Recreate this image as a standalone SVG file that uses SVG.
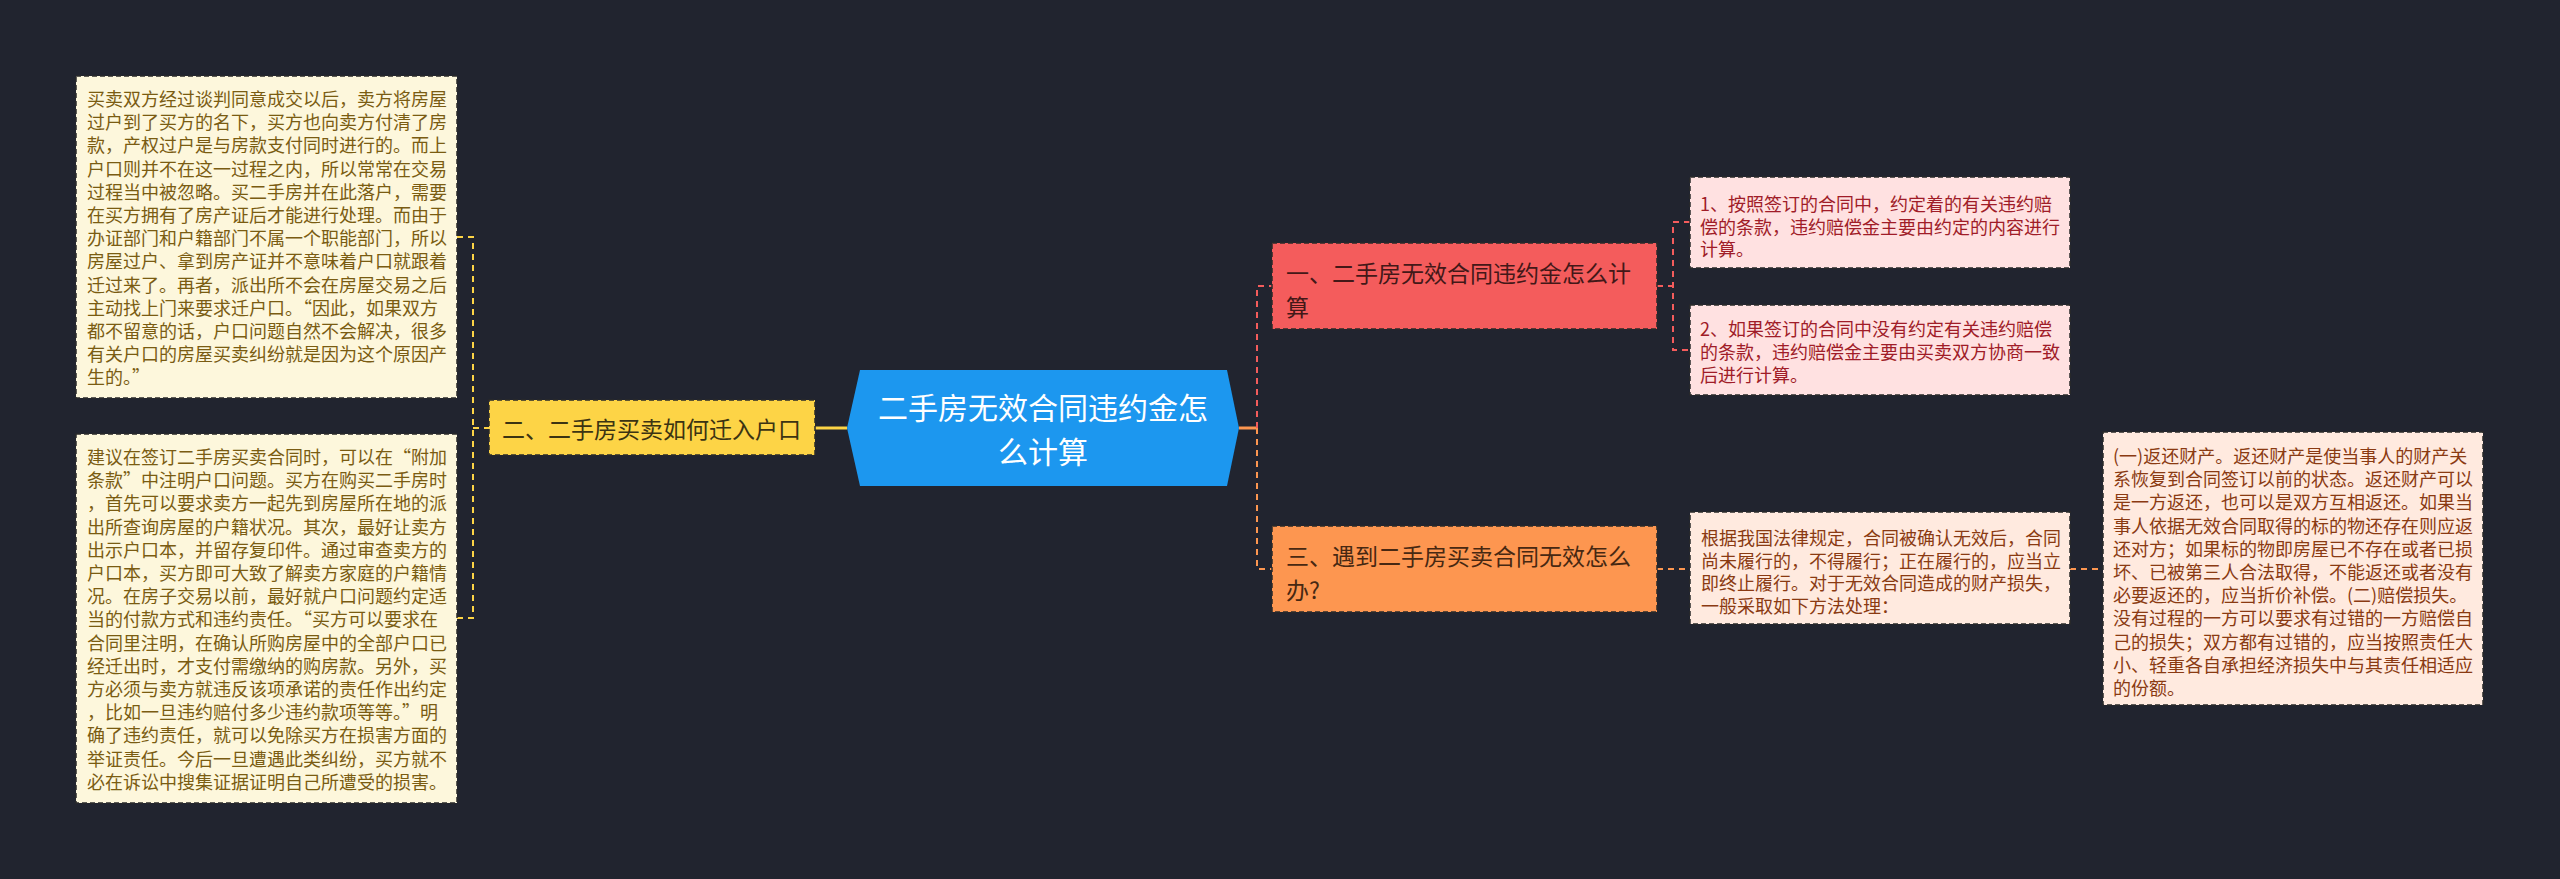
<svg xmlns="http://www.w3.org/2000/svg" width="2560" height="879" viewBox="0 0 2560 879">
<style>
.t{font-family:"Noto Sans CJK SC","Noto Sans",sans-serif;dominant-baseline:central}
.box{stroke:#2a2a2a;stroke-width:1.5;stroke-dasharray:5 3}
.c{fill:none;stroke-width:2;stroke-dasharray:6 5}
.cs{fill:none;stroke-width:3}
.s18{font-size:18px}
.s23{font-size:23px}
.leaf-l{fill:#fdf7dc}
.leaf-lt{fill:#7a5c12}
.leaf-r{fill:#ffe1e1}
.leaf-rt{fill:#a01c28}
.leaf-o{fill:#ffeadf}
.leaf-ot{fill:#8a3a12}
</style>
<rect x="0" y="0" width="2560" height="879" fill="#21242f"/>
<g id="connectors">
  <path class="cs" stroke="#fdd446" d="M815 428 H847"/>
  <path class="c" stroke="#fdd446" d="M490 428 H473"/>
  <path class="c" stroke="#fdd446" d="M457 237 H473 V618 H457"/>
  <path class="cs" stroke="#fd9650" d="M1239 428 H1257"/>
  <path class="c" stroke="#f45c5c" d="M1257 428 V286 H1272"/>
  <path class="c" stroke="#fd9650" d="M1257 428 V569 H1272"/>
  <path class="c" stroke="#f45c5c" d="M1657 286 H1673"/>
  <path class="c" stroke="#f45c5c" d="M1690 222 H1673 V350 H1690"/>
  <path class="c" stroke="#fd9650" d="M1657 569 H1690"/>
  <path class="c" stroke="#fd9650" d="M2070 569 H2103"/>
</g>
<g id="root">
  <polygon points="847,428 860,370 1227,370 1239,428 1227,486 860,486" fill="#1c97ef"/>
  <text class="t" font-size="30" fill="#ffffff" text-anchor="middle"><tspan x="1043" y="406">二手房无效合同违约金怎</tspan><tspan x="1043" y="450">么计算</tspan></text>
</g>
<g id="node-yellow">
  <rect class="box" x="489" y="400" width="326" height="55" fill="#fdd446"/>
  <text class="t s23" fill="#3b3312" x="502" y="428">二、二手房买卖如何迁入户口</text>
</g>
<g id="leaf-left-1">
  <rect class="box leaf-l" x="76" y="76" width="381" height="322"/>
  <text class="t s18 leaf-lt"><tspan x="87" y="98">买卖双方经过谈判同意成交以后，卖方将房屋</tspan><tspan x="87" y="121.2">过户到了买方的名下，买方也向卖方付清了房</tspan><tspan x="87" y="144.4">款，产权过户是与房款支付同时进行的。而上</tspan><tspan x="87" y="167.6">户口则并不在这一过程之内，所以常常在交易</tspan><tspan x="87" y="190.8">过程当中被忽略。买二手房并在此落户，需要</tspan><tspan x="87" y="214">在买方拥有了房产证后才能进行处理。而由于</tspan><tspan x="87" y="237.2">办证部门和户籍部门不属一个职能部门，所以</tspan><tspan x="87" y="260.4">房屋过户、拿到房产证并不意味着户口就跟着</tspan><tspan x="87" y="283.6">迁过来了。再者，派出所不会在房屋交易之后</tspan><tspan x="87" y="306.8">主动找上门来要求迁户口。“因此，如果双方</tspan><tspan x="87" y="330">都不留意的话，户口问题自然不会解决，很多</tspan><tspan x="87" y="353.2">有关户口的房屋买卖纠纷就是因为这个原因产</tspan><tspan x="87" y="376.4">生的。”</tspan></text>
</g>
<g id="leaf-left-2">
  <rect class="box leaf-l" x="76" y="434" width="381" height="369"/>
  <text class="t s18 leaf-lt"><tspan x="87" y="456">建议在签订二手房买卖合同时，可以在“附加</tspan><tspan x="87" y="479.2">条款”中注明户口问题。买方在购买二手房时</tspan><tspan x="87" y="502.4">，首先可以要求卖方一起先到房屋所在地的派</tspan><tspan x="87" y="525.6">出所查询房屋的户籍状况。其次，最好让卖方</tspan><tspan x="87" y="548.8">出示户口本，并留存复印件。通过审查卖方的</tspan><tspan x="87" y="572">户口本，买方即可大致了解卖方家庭的户籍情</tspan><tspan x="87" y="595.2">况。在房子交易以前，最好就户口问题约定适</tspan><tspan x="87" y="618.4">当的付款方式和违约责任。“买方可以要求在</tspan><tspan x="87" y="641.6">合同里注明，在确认所购房屋中的全部户口已</tspan><tspan x="87" y="664.8">经迁出时，才支付需缴纳的购房款。另外，买</tspan><tspan x="87" y="688">方必须与卖方就违反该项承诺的责任作出约定</tspan><tspan x="87" y="711.2">，比如一旦违约赔付多少违约款项等等。”明</tspan><tspan x="87" y="734.4">确了违约责任，就可以免除买方在损害方面的</tspan><tspan x="87" y="757.6">举证责任。今后一旦遭遇此类纠纷，买方就不</tspan><tspan x="87" y="780.8">必在诉讼中搜集证据证明自己所遭受的损害。</tspan></text>
</g>
<g id="node-red">
  <rect class="box" x="1272" y="243" width="385" height="86" fill="#f45c5c"/>
  <text class="t s23" fill="#431818"><tspan x="1286" y="272">一、二手房无效合同违约金怎么计</tspan><tspan x="1286" y="306">算</tspan></text>
</g>
<g id="leaf-red-1">
  <rect class="box leaf-r" x="1690" y="177" width="380" height="91"/>
  <text class="t s18 leaf-rt"><tspan x="1700" y="203">1、按照签订的合同中，约定着的有关违约赔</tspan><tspan x="1700" y="225.5">偿的条款，违约赔偿金主要由约定的内容进行</tspan><tspan x="1700" y="248">计算。</tspan></text>
</g>
<g id="leaf-red-2">
  <rect class="box leaf-r" x="1690" y="305" width="380" height="90"/>
  <text class="t s18 leaf-rt"><tspan x="1700" y="328">2、如果签订的合同中没有约定有关违约赔偿</tspan><tspan x="1700" y="351">的条款，违约赔偿金主要由买卖双方协商一致</tspan><tspan x="1700" y="374">后进行计算。</tspan></text>
</g>
<g id="node-orange">
  <rect class="box" x="1272" y="526" width="385" height="86" fill="#fd9650"/>
  <text class="t s23" fill="#472812"><tspan x="1286" y="555">三、遇到二手房买卖合同无效怎么</tspan><tspan x="1286" y="589">办?</tspan></text>
</g>
<g id="leaf-orange-1">
  <rect class="box leaf-o" x="1690" y="512" width="380" height="112"/>
  <text class="t s18 leaf-ot"><tspan x="1701" y="537">根据我国法律规定，合同被确认无效后，合同</tspan><tspan x="1701" y="559.5">尚未履行的，不得履行；正在履行的，应当立</tspan><tspan x="1701" y="582">即终止履行。对于无效合同造成的财产损失，</tspan><tspan x="1701" y="604.5">一般采取如下方法处理：</tspan></text>
</g>
<g id="leaf-orange-2">
  <rect class="box leaf-o" x="2103" y="432" width="380" height="273"/>
  <text class="t s18 leaf-ot"><tspan x="2113" y="455">(一)返还财产。返还财产是使当事人的财产关</tspan><tspan x="2113" y="478.2">系恢复到合同签订以前的状态。返还财产可以</tspan><tspan x="2113" y="501.4">是一方返还，也可以是双方互相返还。如果当</tspan><tspan x="2113" y="524.6">事人依据无效合同取得的标的物还存在则应返</tspan><tspan x="2113" y="547.8">还对方；如果标的物即房屋已不存在或者已损</tspan><tspan x="2113" y="571">坏、已被第三人合法取得，不能返还或者没有</tspan><tspan x="2113" y="594.2">必要返还的，应当折价补偿。(二)赔偿损失。</tspan><tspan x="2113" y="617.4">没有过程的一方可以要求有过错的一方赔偿自</tspan><tspan x="2113" y="640.6">己的损失；双方都有过错的，应当按照责任大</tspan><tspan x="2113" y="663.8">小、轻重各自承担经济损失中与其责任相适应</tspan><tspan x="2113" y="687">的份额。</tspan></text>
</g>
</svg>
